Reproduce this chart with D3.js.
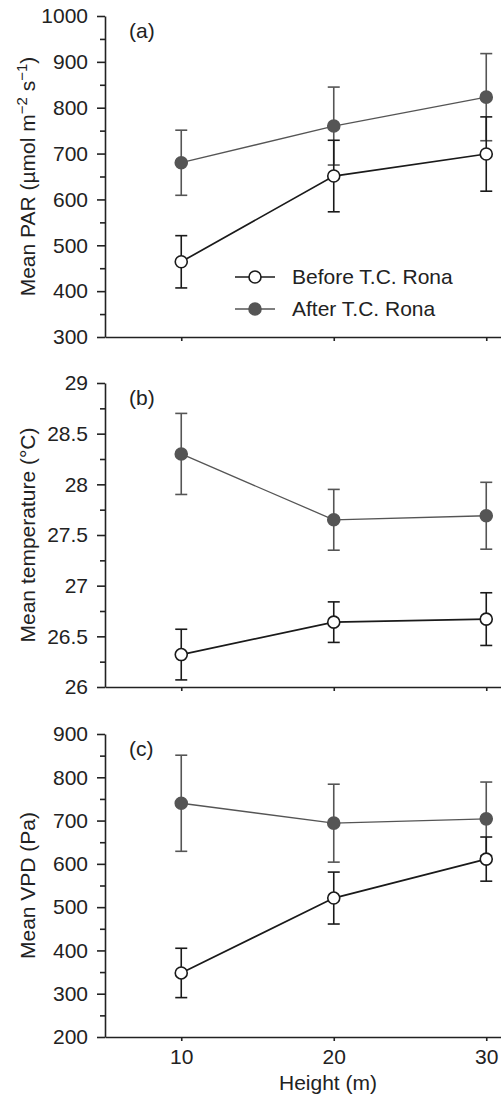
<!DOCTYPE html>
<html>
<head>
<meta charset="utf-8">
<script src="https://cdn.jsdelivr.net/npm/d3@7"></script>
<style>
  body { margin: 0; background: #fff; }
  svg { display: block; font-family: "Liberation Sans", Arial, sans-serif; }
  .axis text { font-size: 21px; fill: #222; }
  .axis path, .axis line { stroke: #222; stroke-width: 1.6; }
</style>
</head>
<body>
<div id="chart"></div>
<script>
// x categories (height, m)
const heights = [10, 20, 30];

// (a) mean PAR
const parBefore = [464, 651, 699];
const parBeforeErr = [57, 78, 81];
const parAfter = [680, 760, 823];
const parAfterErr = [71, 85, 95];

// (b) mean temperature
const tempBefore = [26.32, 26.64, 26.67];
const tempBeforeErr = [0.25, 0.2, 0.26];
const tempAfter = [28.3, 27.65, 27.69];
const tempAfterErr = [0.4, 0.3, 0.33];

// (c) mean VPD
const vpdBefore = [348, 521, 611];
const vpdBeforeErr = [57, 60, 51];
const vpdAfter = [740, 694, 704];
const vpdAfterErr = [111, 90, 85];

const seriesNames = ["Before T.C. Rona", "After T.C. Rona"];

const width = 501, height = 1095;
const axisX = 105;
const fs = 21;

const svg = d3.select("#chart").append("svg")
    .attr("width", width)
    .attr("height", height);

// shared x scale (axis runs off the right edge like the original crop)
const x = d3.scaleLinear().domain([5, 35]).range([axisX, axisX + 30 * 15.25]);

const panels = [
    { tag: "(a)", top: 16, bottom: 337, domain: [300, 1000], major: d3.range(300, 1001, 100), minor: d3.range(350, 1000, 100),
      before: parBefore, beforeErr: parBeforeErr, after: parAfter, afterErr: parAfterErr, label: "par", xlabels: false },
    { tag: "(b)", top: 383, bottom: 687, domain: [26, 29], major: d3.range(26, 29.01, 0.5), minor: d3.range(26.25, 29, 0.5),
      before: tempBefore, beforeErr: tempBeforeErr, after: tempAfter, afterErr: tempAfterErr, label: "temp", xlabels: false },
    { tag: "(c)", top: 734, bottom: 1037, domain: [200, 900], major: d3.range(200, 901, 100), minor: d3.range(250, 900, 100),
      before: vpdBefore, beforeErr: vpdBeforeErr, after: vpdAfter, afterErr: vpdAfterErr, label: "vpd", xlabels: true }
];

const afterColor = "#555";
const beforeColor = "#1a1a1a";

panels.forEach(p => {
    const y = d3.scaleLinear().domain(p.domain).range([p.bottom, p.top]);
    const g = svg.append("g");

    // x axis
    g.append("g")
        .attr("class", "axis")
        .attr("transform", `translate(0,${p.bottom})`)
        .call(d3.axisBottom(x).tickValues(heights).tickSize(4).tickSizeOuter(0).tickPadding(8)
            .tickFormat(p.xlabels ? d => d : () => ""));

    // minor y ticks
    g.append("g")
        .attr("class", "axis")
        .attr("transform", `translate(${axisX},0)`)
        .call(d3.axisLeft(y).tickValues(p.minor).tickSize(5).tickFormat(""))
        .call(a => a.select(".domain").remove());

    // major y ticks
    g.append("g")
        .attr("class", "axis")
        .attr("transform", `translate(${axisX},0)`)
        .call(d3.axisLeft(y).tickValues(p.major).tickSize(8).tickSizeOuter(0).tickPadding(9)
            .tickFormat(d => String(+d.toFixed(2))));

    // panel tag
    g.append("text")
        .attr("x", 129)
        .attr("y", p.top + 22)
        .attr("font-size", fs)
        .attr("fill", "#222")
        .text(p.tag);

    // y axis title
    const ty = g.append("text")
        .attr("transform", `translate(35,${(p.top + p.bottom) / 2}) rotate(-90)`)
        .attr("text-anchor", "middle")
        .attr("font-size", fs)
        .attr("fill", "#222");
    if (p.label === "par") {
        ty.append("tspan").text("Mean PAR (\u00b5mol m");
        ty.append("tspan").attr("font-size", 15).attr("dy", -8).text("\u22122");
        ty.append("tspan").attr("dy", 8).text(" s");
        ty.append("tspan").attr("font-size", 15).attr("dy", -8).text("\u22121");
        ty.append("tspan").attr("dy", 8).text(")");
    } else if (p.label === "temp") {
        ty.text("Mean temperature (\u00b0C)");
    } else {
        ty.text("Mean VPD (Pa)");
    }

    const series = [
        { vals: p.after, err: p.afterErr, color: afterColor, fill: afterColor, lw: 1.3 },
        { vals: p.before, err: p.beforeErr, color: beforeColor, fill: "#fff", lw: 1.7 }
    ];

    const line = d3.line().x((d, i) => x(heights[i])).y(d => y(d));

    series.forEach(s => {
        g.append("path")
            .attr("d", line(s.vals))
            .attr("fill", "none")
            .attr("stroke", s.color)
            .attr("stroke-width", s.lw);

        const eb = g.append("g").attr("stroke", s.color).attr("stroke-width", 1.6);
        s.vals.forEach((v, i) => {
            const cx = x(heights[i]);
            eb.append("line").attr("x1", cx).attr("x2", cx).attr("y1", y(v - s.err[i])).attr("y2", y(v + s.err[i]));
            eb.append("line").attr("x1", cx - 6).attr("x2", cx + 6).attr("y1", y(v + s.err[i])).attr("y2", y(v + s.err[i]));
            eb.append("line").attr("x1", cx - 6).attr("x2", cx + 6).attr("y1", y(v - s.err[i])).attr("y2", y(v - s.err[i]));
        });
    });

    series.forEach(s => {
        g.selectAll(null)
            .data(s.vals)
            .enter().append("circle")
            .attr("cx", (d, i) => x(heights[i]))
            .attr("cy", d => y(d))
            .attr("r", 6)
            .attr("fill", s.fill)
            .attr("stroke", s.color)
            .attr("stroke-width", 1.6);
    });

    // legend in panel (a)
    if (p.label === "par") {
        const legend = g.append("g").attr("transform", "translate(235,277)");
        const items = [
            { name: seriesNames[0], color: beforeColor, fill: "#fff" },
            { name: seriesNames[1], color: afterColor, fill: afterColor }
        ];
        items.forEach((it, i) => {
            const row = legend.append("g").attr("transform", `translate(0,${i * 32})`);
            row.append("line").attr("x1", 0).attr("x2", 40).attr("y1", 0).attr("y2", 0)
                .attr("stroke", it.color).attr("stroke-width", 1.6);
            row.append("circle").attr("cx", 20).attr("cy", 0).attr("r", 6)
                .attr("fill", it.fill).attr("stroke", it.color).attr("stroke-width", 1.6);
            row.append("text").attr("x", 57).attr("y", 7)
                .attr("font-size", fs).attr("fill", "#222").text(it.name);
        });
    }
});

// x axis title
svg.append("text")
    .attr("x", 328)
    .attr("y", 1090)
    .attr("text-anchor", "middle")
    .attr("font-size", fs)
    .attr("fill", "#222")
    .text("Height (m)");
</script>
</body>
</html>
